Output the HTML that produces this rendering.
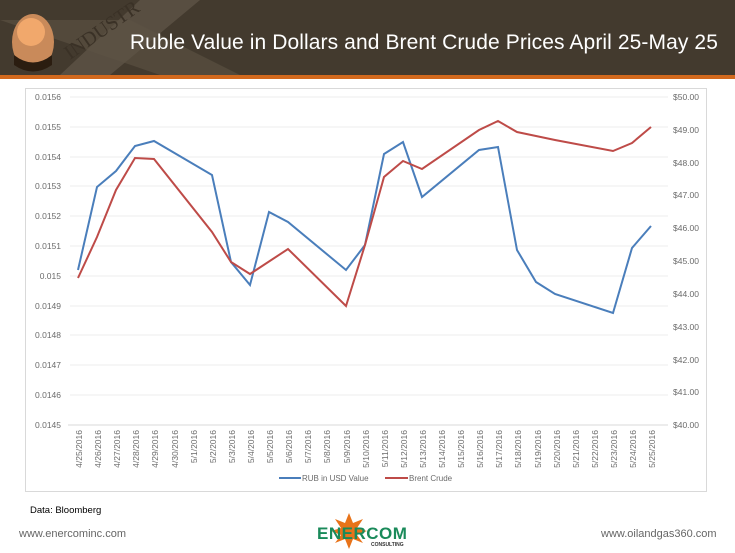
<!DOCTYPE html>
<html><head><meta charset="utf-8"><style>
body{margin:0;width:735px;height:553px;background:#fff;overflow:hidden;font-family:"Liberation Sans",sans-serif;position:relative}
.hdr{position:absolute;left:0;top:0;width:735px;height:75px;background:#433a2e}
.hl{position:absolute;left:0;top:75px;width:735px;height:4px;background:#d2691e}
.title{position:absolute;right:17px;top:31px;color:#fff;font-size:21px;letter-spacing:0.1px}
</style></head><body>
<div class="hdr">
<svg width="735" height="75" style="position:absolute;left:0;top:0">
<polygon points="0,20 160,75 240,75 130,20" fill="#5a5042" opacity="0.7"/>
<polygon points="60,75 140,0 200,0 110,75" fill="#5e5446" opacity="0.8"/>
<text x="70" y="60" fill="#3a3126" font-size="20" font-family="Liberation Serif" transform="rotate(-35 70 60)">INDUSTR</text>
<ellipse cx="33" cy="42" rx="21" ry="28" fill="#c98a5a"/>
<ellipse cx="31" cy="32" rx="14" ry="14" fill="#f1a86c"/>
<path d="M14,55 Q33,70 52,55 L52,65 Q33,78 14,65Z" fill="#2b1d10"/>
</svg>
<div class="title">Ruble Value in Dollars and Brent Crude Prices April 25-May 25</div>
</div>
<div class="hl"></div>
<svg width="735" height="553" style="position:absolute;left:0;top:0" font-family="Liberation Sans" font-size="8.5" fill="#6b6b6b">
<rect x="25.5" y="88.5" width="681" height="403" fill="none" stroke="#d9d9d9"/>
<g stroke="#ececec">
<line x1="70" x2="668" y1="97" y2="97"/><line x1="70" x2="668" y1="127" y2="127"/><line x1="70" x2="668" y1="157" y2="157"/><line x1="70" x2="668" y1="186" y2="186"/><line x1="70" x2="668" y1="216" y2="216"/><line x1="70" x2="668" y1="246" y2="246"/><line x1="70" x2="668" y1="276" y2="276"/><line x1="70" x2="668" y1="306" y2="306"/><line x1="70" x2="668" y1="335" y2="335"/><line x1="70" x2="668" y1="365" y2="365"/><line x1="70" x2="668" y1="395" y2="395"/>
</g>
<line x1="68" x2="668" y1="425" y2="425" stroke="#d9d9d9"/>
<g text-anchor="end">
<text x="61" y="100">0.0156</text><text x="61" y="130">0.0155</text><text x="61" y="160">0.0154</text><text x="61" y="189">0.0153</text><text x="61" y="219">0.0152</text><text x="61" y="249">0.0151</text><text x="61" y="279">0.015</text><text x="61" y="309">0.0149</text><text x="61" y="338">0.0148</text><text x="61" y="368">0.0147</text><text x="61" y="398">0.0146</text><text x="61" y="428">0.0145</text>
</g>
<g>
<text x="673" y="100">$50.00</text><text x="673" y="133">$49.00</text><text x="673" y="166">$48.00</text><text x="673" y="198">$47.00</text><text x="673" y="231">$46.00</text><text x="673" y="264">$45.00</text><text x="673" y="297">$44.00</text><text x="673" y="330">$43.00</text><text x="673" y="363">$42.00</text><text x="673" y="395">$41.00</text><text x="673" y="428">$40.00</text>
</g>
<g font-size="8.5" text-anchor="end">
<text transform="translate(82,430) rotate(-90)">4/25/2016</text><text transform="translate(101,430) rotate(-90)">4/26/2016</text><text transform="translate(120,430) rotate(-90)">4/27/2016</text><text transform="translate(139,430) rotate(-90)">4/28/2016</text><text transform="translate(158,430) rotate(-90)">4/29/2016</text><text transform="translate(178,430) rotate(-90)">4/30/2016</text><text transform="translate(197,430) rotate(-90)">5/1/2016</text><text transform="translate(216,430) rotate(-90)">5/2/2016</text><text transform="translate(235,430) rotate(-90)">5/3/2016</text><text transform="translate(254,430) rotate(-90)">5/4/2016</text><text transform="translate(273,430) rotate(-90)">5/5/2016</text><text transform="translate(292,430) rotate(-90)">5/6/2016</text><text transform="translate(311,430) rotate(-90)">5/7/2016</text><text transform="translate(330,430) rotate(-90)">5/8/2016</text><text transform="translate(350,430) rotate(-90)">5/9/2016</text><text transform="translate(369,430) rotate(-90)">5/10/2016</text><text transform="translate(388,430) rotate(-90)">5/11/2016</text><text transform="translate(407,430) rotate(-90)">5/12/2016</text><text transform="translate(426,430) rotate(-90)">5/13/2016</text><text transform="translate(445,430) rotate(-90)">5/14/2016</text><text transform="translate(464,430) rotate(-90)">5/15/2016</text><text transform="translate(483,430) rotate(-90)">5/16/2016</text><text transform="translate(502,430) rotate(-90)">5/17/2016</text><text transform="translate(521,430) rotate(-90)">5/18/2016</text><text transform="translate(541,430) rotate(-90)">5/19/2016</text><text transform="translate(560,430) rotate(-90)">5/20/2016</text><text transform="translate(579,430) rotate(-90)">5/21/2016</text><text transform="translate(598,430) rotate(-90)">5/22/2016</text><text transform="translate(617,430) rotate(-90)">5/23/2016</text><text transform="translate(636,430) rotate(-90)">5/24/2016</text><text transform="translate(655,430) rotate(-90)">5/25/2016</text>
</g>
<polyline fill="none" stroke="#4a7ebb" stroke-width="2" points="78,270 97,187 116,171 135,146 154,141 212,175 231,262 250,285 269,212 288,222 346,270 365,245 384,154 403,142 422,197 479,150 498,147 517,250 536,282 555,294 613,313 632,248 651,226"/>
<polyline fill="none" stroke="#be4b48" stroke-width="2" points="78,278 97,237 116,190 135,158 154,159 212,232 231,262 250,274 288,249 346,306 365,245 384,177 403,161 422,169 479,130 498,121 517,132 536,136 555,140 613,151 632,143 651,127"/>
<line x1="279" x2="301" y1="478" y2="478" stroke="#4a7ebb" stroke-width="2"/>
<text x="302" y="481" font-size="8">RUB in USD Value</text>
<line x1="385" x2="408" y1="478" y2="478" stroke="#be4b48" stroke-width="2"/>
<text x="409" y="481" font-size="8">Brent Crude</text>
<text x="30" y="513" font-size="9.5" fill="#000">Data: Bloomberg</text>
<text x="19" y="537" font-size="11" fill="#666">www.enercominc.com</text>
<text x="601" y="537" font-size="11" fill="#666">www.oilandgas360.com</text>
<g transform="translate(349,531)"><polygon points="0,-18 4,-8 14,-12 8,-3 18,0 8,4 14,12 4,8 0,18 -4,8 -14,12 -8,4 -18,0 -8,-3 -14,-12 -4,-8" fill="#e8731a"/></g>
<text x="317" y="539" font-size="17" fill="#1a8a5a" font-weight="bold" letter-spacing="0.5">ENERCOM</text>
<text x="371" y="546" font-size="5" fill="#333" font-weight="bold">CONSULTING</text>
</svg>
</body></html>
